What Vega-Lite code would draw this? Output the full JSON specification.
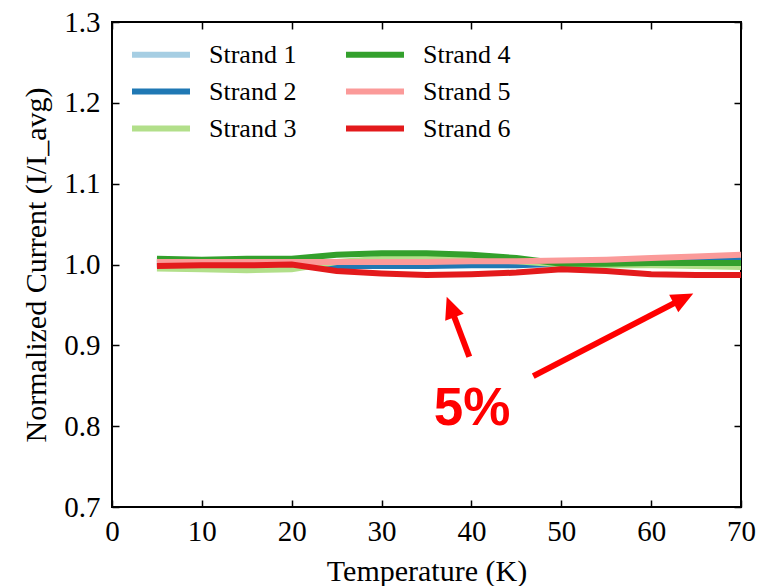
{
  "$schema": "https://vega.github.io/schema/vega-lite/v6.json",
  "width": 629,
  "height": 485,
  "autosize": {"type": "none"},
  "padding": {"left": 112, "top": 22, "right": 16, "bottom": 79},
  "background": "white",
  "datasets": {
    "strands": [
      {"T": 5, "I": 1.002, "strand": "Strand 1"}, {"T": 10, "I": 1.002, "strand": "Strand 1"}, {"T": 15, "I": 1.002, "strand": "Strand 1"}, {"T": 20, "I": 1.002, "strand": "Strand 1"}, {"T": 25, "I": 1.002, "strand": "Strand 1"}, {"T": 30, "I": 1.002, "strand": "Strand 1"}, {"T": 35, "I": 1.002, "strand": "Strand 1"}, {"T": 40, "I": 1.003, "strand": "Strand 1"}, {"T": 45, "I": 1.003, "strand": "Strand 1"}, {"T": 50, "I": 1.003, "strand": "Strand 1"}, {"T": 55, "I": 1.004, "strand": "Strand 1"}, {"T": 60, "I": 1.005, "strand": "Strand 1"}, {"T": 65, "I": 1.006, "strand": "Strand 1"}, {"T": 70, "I": 1.007, "strand": "Strand 1"},
      {"T": 5, "I": 1.000, "strand": "Strand 2"}, {"T": 10, "I": 1.000, "strand": "Strand 2"}, {"T": 15, "I": 1.000, "strand": "Strand 2"}, {"T": 20, "I": 1.000, "strand": "Strand 2"}, {"T": 25, "I": 0.998, "strand": "Strand 2"}, {"T": 30, "I": 0.998, "strand": "Strand 2"}, {"T": 35, "I": 0.998, "strand": "Strand 2"}, {"T": 40, "I": 0.999, "strand": "Strand 2"}, {"T": 45, "I": 0.999, "strand": "Strand 2"}, {"T": 50, "I": 1.001, "strand": "Strand 2"}, {"T": 55, "I": 1.003, "strand": "Strand 2"}, {"T": 60, "I": 1.005, "strand": "Strand 2"}, {"T": 65, "I": 1.007, "strand": "Strand 2"}, {"T": 70, "I": 1.009, "strand": "Strand 2"},
      {"T": 5, "I": 0.995, "strand": "Strand 3"}, {"T": 10, "I": 0.994, "strand": "Strand 3"}, {"T": 15, "I": 0.993, "strand": "Strand 3"}, {"T": 20, "I": 0.994, "strand": "Strand 3"}, {"T": 25, "I": 1.003, "strand": "Strand 3"}, {"T": 30, "I": 1.007, "strand": "Strand 3"}, {"T": 35, "I": 1.007, "strand": "Strand 3"}, {"T": 40, "I": 1.006, "strand": "Strand 3"}, {"T": 45, "I": 1.004, "strand": "Strand 3"}, {"T": 50, "I": 1.000, "strand": "Strand 3"}, {"T": 55, "I": 0.999, "strand": "Strand 3"}, {"T": 60, "I": 0.999, "strand": "Strand 3"}, {"T": 65, "I": 0.998, "strand": "Strand 3"}, {"T": 70, "I": 0.997, "strand": "Strand 3"},
      {"T": 5, "I": 1.007, "strand": "Strand 4"}, {"T": 10, "I": 1.006, "strand": "Strand 4"}, {"T": 15, "I": 1.007, "strand": "Strand 4"}, {"T": 20, "I": 1.007, "strand": "Strand 4"}, {"T": 25, "I": 1.012, "strand": "Strand 4"}, {"T": 30, "I": 1.014, "strand": "Strand 4"}, {"T": 35, "I": 1.014, "strand": "Strand 4"}, {"T": 40, "I": 1.012, "strand": "Strand 4"}, {"T": 45, "I": 1.008, "strand": "Strand 4"}, {"T": 50, "I": 1.001, "strand": "Strand 4"}, {"T": 55, "I": 1.001, "strand": "Strand 4"}, {"T": 60, "I": 1.002, "strand": "Strand 4"}, {"T": 65, "I": 1.002, "strand": "Strand 4"}, {"T": 70, "I": 1.002, "strand": "Strand 4"},
      {"T": 5, "I": 1.003, "strand": "Strand 5"}, {"T": 10, "I": 1.003, "strand": "Strand 5"}, {"T": 15, "I": 1.003, "strand": "Strand 5"}, {"T": 20, "I": 1.003, "strand": "Strand 5"}, {"T": 25, "I": 1.003, "strand": "Strand 5"}, {"T": 30, "I": 1.003, "strand": "Strand 5"}, {"T": 35, "I": 1.003, "strand": "Strand 5"}, {"T": 40, "I": 1.004, "strand": "Strand 5"}, {"T": 45, "I": 1.004, "strand": "Strand 5"}, {"T": 50, "I": 1.005, "strand": "Strand 5"}, {"T": 55, "I": 1.006, "strand": "Strand 5"}, {"T": 60, "I": 1.008, "strand": "Strand 5"}, {"T": 65, "I": 1.010, "strand": "Strand 5"}, {"T": 70, "I": 1.012, "strand": "Strand 5"},
      {"T": 5, "I": 0.998, "strand": "Strand 6"}, {"T": 10, "I": 0.999, "strand": "Strand 6"}, {"T": 15, "I": 0.999, "strand": "Strand 6"}, {"T": 20, "I": 1.000, "strand": "Strand 6"}, {"T": 25, "I": 0.992, "strand": "Strand 6"}, {"T": 30, "I": 0.989, "strand": "Strand 6"}, {"T": 35, "I": 0.987, "strand": "Strand 6"}, {"T": 40, "I": 0.988, "strand": "Strand 6"}, {"T": 45, "I": 0.990, "strand": "Strand 6"}, {"T": 50, "I": 0.994, "strand": "Strand 6"}, {"T": 55, "I": 0.992, "strand": "Strand 6"}, {"T": 60, "I": 0.988, "strand": "Strand 6"}, {"T": 65, "I": 0.987, "strand": "Strand 6"}, {"T": 70, "I": 0.987, "strand": "Strand 6"}
    ],
    "arrows": [
      {"x1": 39.76, "y1": 0.8859, "x2": 37.68, "y2": 0.9474},
      {"x1": 46.88, "y1": 0.862, "x2": 63.6, "y2": 0.958}
    ],
    "heads1": [{"x": 37.68, "y": 0.9474}],
    "heads2": [{"x": 63.6, "y": 0.958}],
    "label": [{"x": 40.06, "y": 0.8014, "text": "5%"}]
  },
  "layer": [
    {
      "data": {"name": "strands"},
      "mark": {"type": "line", "strokeWidth": 6, "clip": true},
      "encoding": {
        "x": {"field": "T", "type": "quantitative", "scale": {"domain": [0, 70], "nice": false}, "axis": {"orient": "bottom", "values": [0, 10, 20, 30, 40, 50, 60, 70], "title": "Temperature (K)", "ticks": false, "labelFlush": false, "labelOverlap": false, "labelPadding": 10, "titlePadding": 10}},
        "y": {"field": "I", "type": "quantitative", "scale": {"domain": [0.7, 1.3], "nice": false, "zero": false}, "axis": {"orient": "left", "values": [0.7, 0.8, 0.9, 1.0, 1.1, 1.2, 1.3], "format": ".1f", "title": "Normalized Current (I/I_avg)", "ticks": false, "labelFlush": false, "labelOverlap": false, "labelPadding": 12, "titlePadding": 12}},
        "color": {
          "field": "strand", "type": "nominal",
          "scale": {"domain": ["Strand 1", "Strand 2", "Strand 3", "Strand 4", "Strand 5", "Strand 6"], "range": ["#a6cee3", "#1f78b4", "#b2df8a", "#33a02c", "#fb9a99", "#e31a1c"]},
          "legend": {
            "orient": "none", "legendX": 17, "legendY": 15, "columns": 2, "title": null,
            "symbolType": "M-1,0H3", "symbolSize": 841, "symbolStrokeWidth": 6, "symbolOpacity": 1,
            "labelFont": "Liberation Serif", "labelFontSize": 26, "labelColor": "black", "labelOffset": 45, "labelLimit": 200,
            "columnPadding": 37, "rowPadding": 6, "padding": 0
          }
        }
      }
    },
    {
      "data": {"name": "arrows"},
      "mark": {"type": "rule", "color": "#ff0000", "strokeWidth": 6},
      "encoding": {
        "x": {"field": "x1", "type": "quantitative", "axis": null},
        "y": {"field": "y1", "type": "quantitative", "axis": null},
        "x2": {"field": "x2"},
        "y2": {"field": "y2"}
      }
    },
    {
      "data": {"name": "heads1"},
      "mark": {"type": "point", "shape": "M0,-1L-0.9,1L0.9,1Z", "filled": true, "color": "#ff0000", "opacity": 1, "size": 484, "angle": 339.4},
      "encoding": {
        "x": {"field": "x", "type": "quantitative", "axis": {"orient": "top", "values": [0, 10, 20, 30, 40, 50, 60, 70], "labels": false, "title": null, "offset": -7, "tickColor": "black", "tickWidth": 1.5, "tickSize": 7}},
        "y": {"field": "y", "type": "quantitative", "axis": {"orient": "right", "values": [0.7, 0.8, 0.9, 1.0, 1.1, 1.2, 1.3], "labels": false, "title": null, "offset": -7, "tickColor": "black", "tickWidth": 1.5, "tickSize": 7}}
      }
    },
    {
      "data": {"name": "heads2"},
      "mark": {"type": "point", "shape": "M0,-1L-0.9,1L0.9,1Z", "filled": true, "color": "#ff0000", "opacity": 1, "size": 484, "angle": 62.7},
      "encoding": {
        "x": {"field": "x", "type": "quantitative", "axis": {"orient": "bottom", "values": [0, 10, 20, 30, 40, 50, 60, 70], "labels": false, "title": null, "offset": -7, "tickColor": "black", "tickWidth": 1.5, "tickSize": 7}},
        "y": {"field": "y", "type": "quantitative", "axis": {"orient": "left", "values": [0.7, 0.8, 0.9, 1.0, 1.1, 1.2, 1.3], "labels": false, "title": null, "offset": -7, "tickColor": "black", "tickWidth": 1.5, "tickSize": 7}}
      }
    },
    {
      "data": {"name": "label"},
      "mark": {"type": "text", "color": "#ff0000", "font": "Liberation Sans", "fontWeight": "bold", "fontSize": 53, "align": "center", "baseline": "alphabetic"},
      "encoding": {
        "x": {"field": "x", "type": "quantitative", "axis": null},
        "y": {"field": "y", "type": "quantitative", "axis": null},
        "text": {"field": "text"}
      }
    }
  ],
  "resolve": {"axis": {"x": "independent", "y": "independent"}},
  "config": {
    "view": {"stroke": "black", "strokeWidth": 2},
    "axis": {
      "domain": false, "grid": false,
      "labelFont": "Liberation Serif", "labelFontSize": 29, "labelColor": "black",
      "titleFont": "Liberation Serif", "titleFontSize": 30, "titleFontWeight": "normal", "titleColor": "black",
      "tickColor": "black", "tickSize": 7, "tickWidth": 1.5
    }
  }
}
